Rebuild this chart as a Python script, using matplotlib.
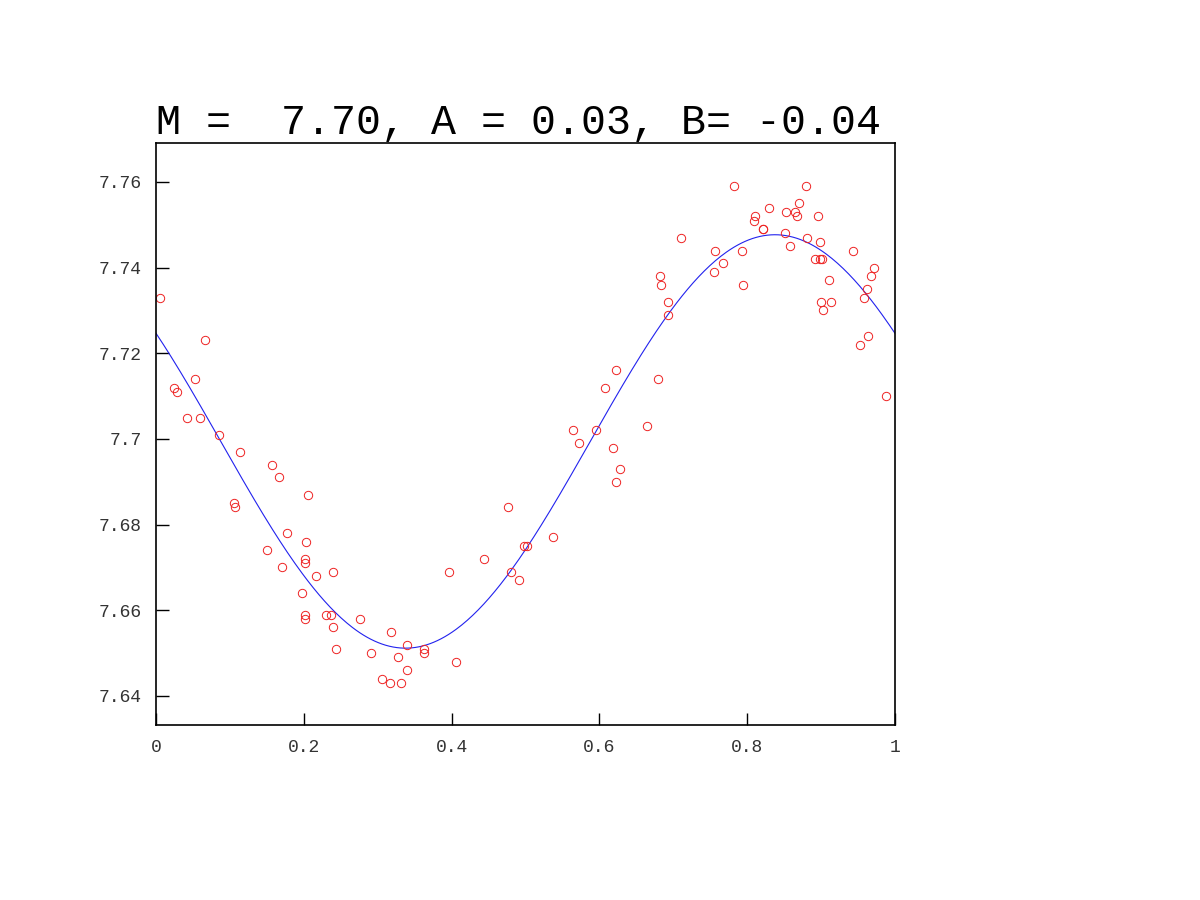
import matplotlib
matplotlib.use('Agg')
import matplotlib.pyplot as plt
import numpy as np
from matplotlib.ticker import FormatStrFormatter, FuncFormatter

plt.rcParams['font.family'] = ['Liberation Mono', 'DejaVu Sans Mono']

## DATA
phase = [0.006, 0.024, 0.028, 0.042, 0.053, 0.060, 0.066, 0.085, 0.106, 0.107,
         0.113, 0.150, 0.157, 0.166, 0.170, 0.177, 0.198, 0.202, 0.202, 0.202,
         0.202, 0.203, 0.206, 0.216, 0.230, 0.237, 0.240, 0.240, 0.244, 0.276,
         0.291, 0.306, 0.316, 0.318, 0.328, 0.332, 0.339, 0.340, 0.362, 0.363,
         0.397, 0.406, 0.444, 0.476, 0.480, 0.491, 0.498, 0.502, 0.537, 0.564,
         0.573, 0.595, 0.608, 0.618, 0.623, 0.623, 0.628, 0.664, 0.679, 0.682,
         0.683, 0.693, 0.693, 0.711, 0.755, 0.757, 0.767, 0.782, 0.793, 0.794,
         0.809, 0.810, 0.822, 0.822, 0.830, 0.851, 0.853, 0.858, 0.865, 0.868,
         0.870, 0.880, 0.881, 0.892, 0.896, 0.898, 0.898, 0.900, 0.901, 0.902,
         0.911, 0.914, 0.943, 0.953, 0.958, 0.962, 0.964, 0.968, 0.971, 0.988]
mag = [7.733, 7.712, 7.711, 7.705, 7.714, 7.705, 7.723, 7.701, 7.685, 7.684,
       7.697, 7.674, 7.694, 7.691, 7.670, 7.678, 7.664, 7.659, 7.658, 7.672,
       7.671, 7.676, 7.687, 7.668, 7.659, 7.659, 7.669, 7.656, 7.651, 7.658,
       7.650, 7.644, 7.643, 7.655, 7.649, 7.643, 7.652, 7.646, 7.650, 7.651,
       7.669, 7.648, 7.672, 7.684, 7.669, 7.667, 7.675, 7.675, 7.677, 7.702,
       7.699, 7.702, 7.712, 7.698, 7.716, 7.690, 7.693, 7.703, 7.714, 7.738,
       7.736, 7.732, 7.729, 7.747, 7.739, 7.744, 7.741, 7.759, 7.744, 7.736,
       7.751, 7.752, 7.749, 7.749, 7.754, 7.748, 7.753, 7.745, 7.753, 7.752,
       7.755, 7.759, 7.747, 7.742, 7.752, 7.746, 7.742, 7.732, 7.742, 7.730,
       7.737, 7.732, 7.744, 7.722, 7.733, 7.735, 7.724, 7.738, 7.740, 7.710]
title = 'M =  7.70, A = 0.03, B= -0.04'

x = np.array(phase)
y = np.array(mag)

# least squares fit  y = M + A cos(2 pi x) + B sin(2 pi x)
G = np.column_stack([np.ones_like(x), np.cos(2*np.pi*x), np.sin(2*np.pi*x)])
coef = np.linalg.lstsq(G, y, rcond=None)[0]
xf = np.linspace(0, 1, 400)
yf = coef[0] + coef[1]*np.cos(2*np.pi*xf) + coef[2]*np.sin(2*np.pi*xf)

fig = plt.figure(figsize=(12, 9), dpi=100)
ax = fig.add_axes([0.13, 0.1944, 0.6158, 0.6467])

ax.plot(xf, yf, color='#2222ee', lw=0.8)
ax.plot(x, y, 'o', mfc='none', mec='#ee2222', ms=6, mew=0.7)

ax.set_xlim(0, 1)
ax.set_ylim(7.6332, 7.7691)
ax.set_xticks([0, 0.2, 0.4, 0.6, 0.8, 1])
ax.set_yticks([7.64, 7.66, 7.68, 7.70, 7.72, 7.74, 7.76])
ax.xaxis.set_major_formatter(FuncFormatter(lambda v, p: '%g' % round(v, 4)))
ax.yaxis.set_major_formatter(FuncFormatter(lambda v, p: '%g' % round(v, 4)))
ax.tick_params(direction='in', length=9, width=1, labelsize=13,
               labelcolor='#333333', top=False, right=False, pad=10)
for s in ax.spines.values():
    s.set_linewidth(1.2)

ax.set_title(title, loc='left', fontsize=30, pad=2)

plt.savefig('out.png', dpi=100)
